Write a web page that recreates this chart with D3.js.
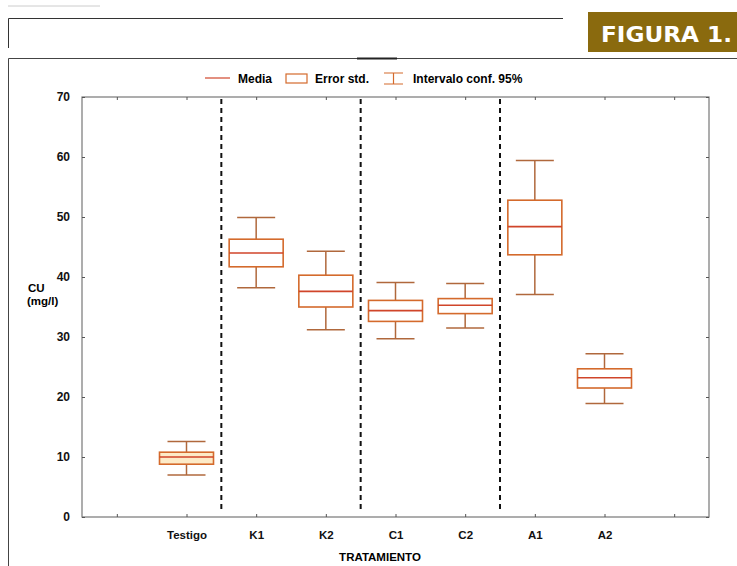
<!DOCTYPE html>
<html>
<head>
<meta charset="utf-8">
<script src="https://cdn.jsdelivr.net/npm/d3@7"></script>
<style>
  body { margin: 0; background: #fff; }
  text { font-family: 'Liberation Sans', Arial, sans-serif; }
</style>
</head>
<body>
<div id="chart"></div>
<script>
// data (CU mg/l per tratamiento)
const categories = ['Testigo', 'K1', 'K2', 'C1', 'C2', 'A1', 'A2'];
const media = [10.0, 44.0, 37.6, 34.4, 35.3, 48.4, 23.2];
const errorLow = [8.8, 41.7, 35.0, 32.6, 33.9, 43.7, 21.5];
const errorHigh = [10.8, 46.3, 40.3, 36.1, 36.4, 52.8, 24.7];
const ciLow = [7.0, 38.2, 31.2, 29.7, 31.5, 37.1, 18.9];
const ciHigh = [12.6, 49.9, 44.3, 39.1, 38.9, 59.4, 27.2];
const yTicks = [0, 10, 20, 30, 40, 50, 60, 70];
const separators = [['Testigo', 'K1'], ['K2', 'C1'], ['C2', 'A1']];

const width = 737;
const height = 566;
const margin = { top: 97, right: 28, bottom: 49, left: 82 };
const boxColor = '#d46a2c';
const whiskerColor = '#b0683c';
const meanColor = '#d0452a';

const svg = d3.select('#chart').append('svg')
  .attr('width', width)
  .attr('height', height);

// page header / frame bits
svg.append('line').attr('x1', 8).attr('x2', 100).attr('y1', 6).attr('y2', 6)
  .style('stroke', '#ccc').style('stroke-width', 1);
svg.append('path').attr('d', 'M8.5,48 V18.5 H563')
  .style('fill', 'none').style('stroke', '#333').style('stroke-width', 1);
svg.append('rect').attr('x', 588).attr('y', 12).attr('width', 149).attr('height', 40)
  .style('fill', '#8a6a0e');
svg.append('text').attr('x', 601).attr('y', 42)
  .attr('textLength', 131).attr('lengthAdjust', 'spacingAndGlyphs')
  .style('font-family', "'DejaVu Sans', sans-serif")
  .style('font-weight', 'bold').style('font-size', '22px').style('fill', '#fff')
  .text('FIGURA 1.');
svg.append('path').attr('d', 'M8.5,566 V58.5 H737')
  .style('fill', 'none').style('stroke', '#444').style('stroke-width', 1);
svg.append('line').attr('x1', 357).attr('x2', 397).attr('y1', 58.5).attr('y2', 58.5)
  .style('stroke', '#222').style('stroke-width', 2);

const x = d3.scalePoint()
  .domain(['_l', ...categories, '_r'])
  .range([margin.left, width - margin.right])
  .padding(0.5);

const y = d3.scaleLinear()
  .domain([0, 70])
  .range([height - margin.bottom, margin.top]);

const x0 = margin.left, x1 = width - margin.right;
const y0 = y(0), y1 = y(70);

// plot frame
svg.append('rect')
  .attr('x', x0).attr('y', y1)
  .attr('width', x1 - x0).attr('height', y0 - y1)
  .style('fill', 'none').style('stroke', '#777').style('stroke-width', 1.2);

// axes with inward ticks
const fmtX = d => (d.startsWith('_') ? '' : d);
svg.append('g').attr('transform', `translate(0,${y0})`)
  .call(d3.axisBottom(x).tickSize(-3).tickPadding(14).tickFormat(fmtX))
  .call(g => g.select('.domain').remove())
  .call(g => g.selectAll('line').style('stroke', '#555'))
  .call(g => g.selectAll('text').style('font-size', '11.5px').style('font-weight', 'bold').style('fill', '#111'));
svg.append('g').attr('transform', `translate(0,${y1})`)
  .call(d3.axisTop(x).tickSize(-3).tickFormat(''))
  .call(g => g.select('.domain').remove())
  .call(g => g.selectAll('line').style('stroke', '#555'));
svg.append('g').attr('transform', `translate(${x0},0)`)
  .call(d3.axisLeft(y).tickValues(yTicks).tickSize(-3).tickPadding(12))
  .call(g => g.select('.domain').remove())
  .call(g => g.selectAll('line').style('stroke', '#555'))
  .call(g => g.selectAll('text').style('font-size', '12px').style('font-weight', 'bold').style('fill', '#111'));
svg.append('g').attr('transform', `translate(${x1},0)`)
  .call(d3.axisRight(y).tickValues(yTicks).tickSize(-3).tickFormat(''))
  .call(g => g.select('.domain').remove())
  .call(g => g.selectAll('line').style('stroke', '#555'));

// axis titles
svg.append('text').attr('x', 28).attr('y', 292)
  .style('font-size', '11.5px').style('font-weight', 'bold').text('CU');
svg.append('text').attr('x', 27).attr('y', 305)
  .style('font-size', '11.5px').style('font-weight', 'bold').text('(mg/l)');
svg.append('text').attr('x', 380).attr('y', 561).attr('text-anchor', 'middle')
  .style('font-size', '11.5px').style('font-weight', 'bold').text('TRATAMIENTO');

// dashed separators
svg.append('g').selectAll('line')
  .data(separators)
  .enter().append('line')
  .attr('x1', d => (x(d[0]) + x(d[1])) / 2)
  .attr('x2', d => (x(d[0]) + x(d[1])) / 2)
  .attr('y1', y1 + 2)
  .attr('y2', y0 - 8)
  .style('stroke', '#111')
  .style('stroke-width', 2)
  .style('stroke-dasharray', '5,4');

// boxes
const boxW = 54;
const capW = 38;
const boxes = svg.append('g').selectAll('g')
  .data(categories.map((c, i) => ({
    c, m: media[i], eLo: errorLow[i], eHi: errorHigh[i], ciLo: ciLow[i], ciHi: ciHigh[i],
  })))
  .enter().append('g')
  .attr('transform', d => `translate(${x(d.c)},0)`);

boxes.append('line')
  .attr('y1', d => y(d.ciHi)).attr('y2', d => y(d.eHi))
  .style('stroke', whiskerColor).style('stroke-width', 1.5);
boxes.append('line')
  .attr('y1', d => y(d.eLo)).attr('y2', d => y(d.ciLo))
  .style('stroke', whiskerColor).style('stroke-width', 1.5);
boxes.append('line')
  .attr('x1', -capW / 2).attr('x2', capW / 2)
  .attr('y1', d => y(d.ciHi)).attr('y2', d => y(d.ciHi))
  .style('stroke', whiskerColor).style('stroke-width', 1.5);
boxes.append('line')
  .attr('x1', -capW / 2).attr('x2', capW / 2)
  .attr('y1', d => y(d.ciLo)).attr('y2', d => y(d.ciLo))
  .style('stroke', whiskerColor).style('stroke-width', 1.5);
boxes.append('rect')
  .attr('x', -boxW / 2).attr('width', boxW)
  .attr('y', d => y(d.eHi)).attr('height', d => y(d.eLo) - y(d.eHi))
  .style('fill', d => (d.c === 'Testigo' ? '#fdebc8' : '#fff'))
  .style('stroke', boxColor).style('stroke-width', 1.6);
boxes.append('line')
  .attr('x1', -boxW / 2).attr('x2', boxW / 2)
  .attr('y1', d => y(d.m)).attr('y2', d => y(d.m))
  .style('stroke', meanColor).style('stroke-width', 1.6);

// legend
const legend = svg.append('g').attr('transform', 'translate(0,78)');
legend.append('line').attr('x1', 205).attr('x2', 230).attr('y1', 0).attr('y2', 0)
  .style('stroke', meanColor).style('stroke-width', 1.2);
legend.append('text').attr('x', 238).attr('y', 4.5)
  .style('font-size', '12px').style('font-weight', 'bold').text('Media');
legend.append('rect').attr('x', 286).attr('y', -4).attr('width', 21).attr('height', 9)
  .style('fill', '#fff').style('stroke', boxColor).style('stroke-width', 1.2);
legend.append('text').attr('x', 315).attr('y', 4.5)
  .style('font-size', '12px').style('font-weight', 'bold').text('Error std.');
legend.append('path').attr('d', 'M384,-5 H403 M393.5,-5 V6 M384,6 H403')
  .style('fill', 'none').style('stroke', boxColor).style('stroke-width', 1.2);
legend.append('text').attr('x', 413).attr('y', 4.5)
  .style('font-size', '12px').style('font-weight', 'bold').text('Intervalo conf. 95%');
</script>
</body>
</html>
